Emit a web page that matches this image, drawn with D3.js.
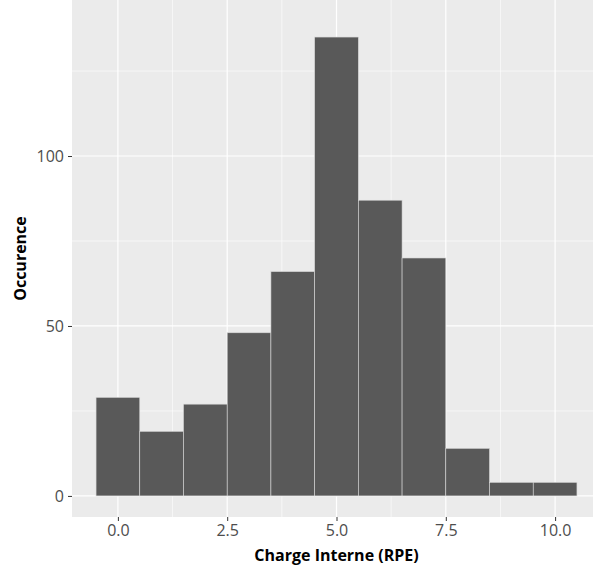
<!DOCTYPE html>
<html><head><meta charset="utf-8">
<script src="https://cdn.jsdelivr.net/npm/d3@7"></script>
<style>body{margin:0;background:#fff;overflow:hidden}text{font-family:"Open Sans",sans-serif}</style>
</head><body><div id="chart"></div>
<script>
const binCenters = [0,1,2,3,4,5,6,7,8,9,10];
const counts = [29,19,27,48,66,135,87,70,14,4,4];
const xTicks = [0,2.5,5,7.5,10];
const yTicks = [0,50,100];

const width = 593, height = 569;
const panel = {left:72, right:601, top:0, bottom:517};

const svg = d3.select("#chart").append("svg").attr("width",width).attr("height",height);

const x = d3.scaleLinear().domain([-1.05,11.05]).range([panel.left,panel.right]);
const y = d3.scaleLinear().domain([-6.2,145.9]).range([panel.bottom,panel.top]);

svg.append("rect").attr("x",panel.left).attr("y",panel.top)
   .attr("width",panel.right-panel.left).attr("height",panel.bottom-panel.top).attr("fill","#ebebeb");

[1.25,3.75,6.25,8.75].forEach(d=>svg.append("line").attr("x1",x(d)).attr("x2",x(d)).attr("y1",panel.top).attr("y2",panel.bottom).attr("stroke","#fff").attr("stroke-width",0.6));
[25,75,125].forEach(d=>svg.append("line").attr("x1",panel.left).attr("x2",panel.right).attr("y1",y(d)).attr("y2",y(d)).attr("stroke","#fff").attr("stroke-width",0.6));
xTicks.forEach(d=>svg.append("line").attr("x1",x(d)).attr("x2",x(d)).attr("y1",panel.top).attr("y2",panel.bottom).attr("stroke","#fff").attr("stroke-width",1.2));
yTicks.forEach(d=>svg.append("line").attr("x1",panel.left).attr("x2",panel.right).attr("y1",y(d)).attr("y2",y(d)).attr("stroke","#fff").attr("stroke-width",1.2));

svg.selectAll("rect.bar").data(binCenters).enter().append("rect").attr("class","bar")
  .attr("x",d=>x(d-0.5)).attr("width",d=>x(d+0.5)-x(d-0.5))
  .attr("y",(d,i)=>y(counts[i])).attr("height",(d,i)=>y(0)-y(counts[i]))
  .attr("fill","#595959").attr("stroke","#d9d9d9").attr("stroke-width",0.6);

const xAxis = svg.append("g").attr("transform",`translate(0,${panel.bottom})`)
  .call(d3.axisBottom(x).tickValues(xTicks).tickFormat(d3.format(".1f")).tickSize(4).tickPadding(4));
const yAxis = svg.append("g").attr("transform",`translate(${panel.left},0)`)
  .call(d3.axisLeft(y).tickValues(yTicks).tickSize(4).tickPadding(4));
[xAxis,yAxis].forEach(g=>{
  g.select(".domain").remove();
  g.selectAll(".tick line").attr("stroke","#333");
  g.selectAll(".tick text").attr("fill","#4d4d4d").style("font-size","16px");
});

svg.append("text").attr("x",(panel.left+panel.right)/2).attr("y",561).attr("text-anchor","middle")
  .style("font-size","16px").style("font-weight","bold").text("Charge Interne (RPE)");
svg.append("text").attr("transform",`translate(26,${(panel.top+panel.bottom)/2}) rotate(-90)`).attr("text-anchor","middle")
  .style("font-size","16px").style("font-weight","bold").text("Occurence");
</script></body></html>
